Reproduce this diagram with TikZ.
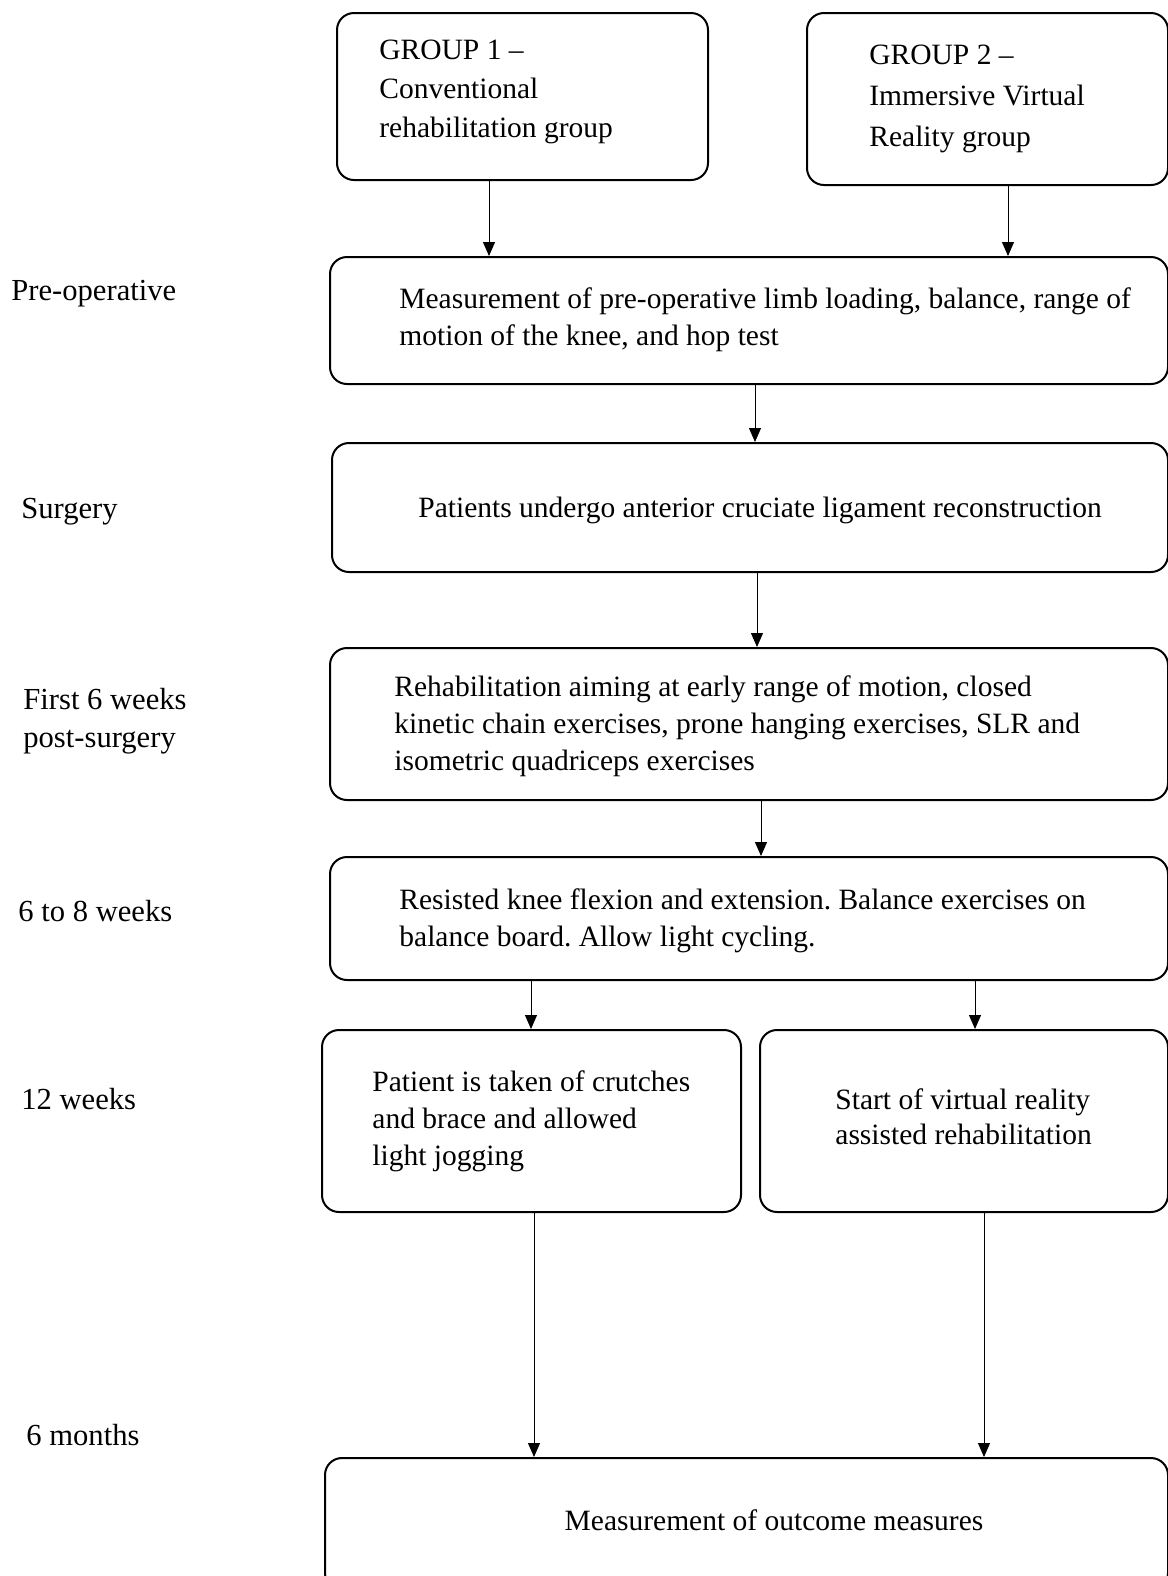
\documentclass[tikz,border=0pt]{standalone}
\usepackage{fontspec}
\setmainfont{Liberation Serif}
\usetikzlibrary{arrows.meta, positioning}
\frenchspacing

\begin{document}
\begin{tikzpicture}[
    x=0.5pt, y=-0.5pt,
    box/.style={rectangle, rounded corners=8.5pt, draw=black, line width=1pt,
                inner sep=0pt},
    txt/.style={font=\fontsize{14.75}{18.5}\selectfont, align=left,
                inner sep=0pt, anchor=north west},
    phase/.style={font=\fontsize{15.3}{19}\selectfont, align=left,
                  inner sep=0pt, anchor=base west},
    arr/.style={-{Triangle[length=7pt, width=6pt]}, line width=0.5pt},
]
\clip (0,0) rectangle (1168,1576);

% ================================================== the two groups
\node[box, minimum width=185.5pt, minimum height=83.5pt] (g1) at (522.5, 96.5) {};
\node[box, minimum width=180.5pt, minimum height=86pt]   (g2) at (987.5, 99) {};
\node[txt, font=\fontsize{14.75}{19.5}\selectfont] (g1t) at (379, 40)
     {GROUP 1 --\\ Conventional\\ rehabilitation group};
\node[txt, font=\fontsize{14.75}{20.5}\selectfont] (g2t) at (869, 45)
     {GROUP 2 --\\ Immersive Virtual\\ Reality group};

% ================================================== the common pathway
\node[box, minimum width=419pt, minimum height=63.5pt] (preop) at (749, 320.5) {};
\node[txt] (preopt) at (399, 287)
     {Measurement of pre-operative limb loading, balance, range of\\
      motion of the knee, and hop test};

\node[box, minimum width=418pt, minimum height=64.5pt] (surg) at (750, 507.5) {};
\node[txt, anchor=base west] (surgt) at (418, 517)
     {Patients undergo anterior cruciate ligament reconstruction};

\node[box, minimum width=419pt, minimum height=76pt] (early) at (749, 724) {};
\node[txt] (earlyt) at (394, 675)
     {Rehabilitation aiming at early range of motion, closed\\
      kinetic chain exercises, prone hanging exercises, SLR and\\
      isometric quadriceps exercises};

\node[box, minimum width=419pt, minimum height=61.5pt] (mid) at (749, 918.5) {};
\node[txt] (midt) at (399, 888)
     {Resisted knee flexion and extension. Balance exercises on\\
      balance board. Allow light cycling.};

% ================================================== the split at 12 weeks
\node[box, minimum width=209.5pt, minimum height=91pt] (crutch) at (531.5, 1121) {};
\node[txt] (crutcht) at (372, 1070)
     {Patient is taken of crutches\\ and brace and allowed\\ light jogging};

\node[box, minimum width=204pt, minimum height=91pt] (vr) at (964, 1121) {};
\node[txt, font=\fontsize{14.75}{17.75}\selectfont] (vrt) at (835, 1088)
     {Start of virtual reality\\ assisted rehabilitation};

\node[box, minimum width=421.5pt, minimum height=66pt] (outc) at (746.5, 1524) {};
\node[txt, anchor=base] (outct) at (774, 1530) {Measurement of outcome measures};

% ================================================== the time line
\node[phase] (p1) at (11, 300) {Pre-operative};
\node[phase] (p2) at (21, 518) {Surgery};
\node[phase, anchor=north west] (p3) at (23, 688) {First 6 weeks\\ post-surgery};
\node[phase] (p4) at (18, 921) {6 to 8 weeks};
\node[phase] (p5) at (21, 1109) {12 weeks};
\node[phase] (p6) at (26, 1445) {6 months};

% ================================================== arrows
\coordinate (a1) at (489, 0);
\coordinate (a2) at (1008, 0);
\coordinate (a3) at (755, 0);
\coordinate (a4) at (757, 0);
\coordinate (a5) at (761, 0);
\coordinate (a6) at (531, 0);
\coordinate (a7) at (975, 0);
\coordinate (a8) at (534, 0);
\coordinate (a9) at (984, 0);

\draw[arr] (a1 |- g1.south) -- (a1 |- preop.north);
\draw[arr] (a2 |- g2.south) -- (a2 |- preop.north);
\draw[arr] (a3 |- preop.south) -- (a3 |- surg.north);
\draw[arr] (a4 |- surg.south) -- (a4 |- early.north);
\draw[arr] (a5 |- early.south) -- (a5 |- mid.north);
\draw[arr] (a6 |- mid.south) -- (a6 |- crutch.north);
\draw[arr] (a7 |- mid.south) -- (a7 |- vr.north);
\draw[arr] (a8 |- crutch.south) -- (a8 |- outc.north);
\draw[arr] (a9 |- vr.south) -- (a9 |- outc.north);

\end{tikzpicture}
\end{document}
